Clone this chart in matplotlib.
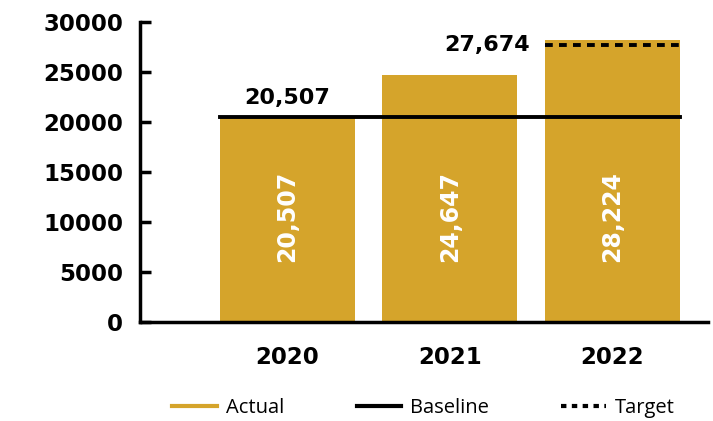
import matplotlib.pyplot as plt
from matplotlib.lines import Line2D

# data
years = ['2020', '2021', '2022']
actual = [20507, 24647, 28224]
baseline = 20507
target = 27674

gold = '#D5A42B'

fig = plt.figure(figsize=(7.13, 4.21), dpi=100)
ax = fig.add_axes([0.196, 0.235, 0.797, 0.713])

x = list(range(len(years)))
w = 0.83
ax.bar(x, actual, width=w, color=gold, zorder=2)

# labels inside bars
for xi, v in zip(x, actual):
    ax.text(xi, baseline / 2 + 300, f'{v:,}', rotation=90, ha='center', va='center',
            color='white', fontsize=17, fontweight='bold', zorder=4)

# baseline across all bars
ax.plot([x[0] - w / 2, x[-1] + w / 2], [baseline, baseline], color='black', lw=2.8, zorder=3)
ax.text(x[0], baseline + 900, f'{baseline:,}', ha='center', va='bottom',
        fontsize=16, fontweight='bold')

# target on last bar
ax.plot([x[-1] - w / 2, x[-1] + w / 2], [target, target], color='black', lw=2.8,
        ls=(0, (2, 1.6)), zorder=3)
ax.text(x[-1] - w / 2 - 0.09, target, f'{target:,}', ha='right', va='center',
        fontsize=16, fontweight='bold')

ax.set_xlim(-0.908, 2.59)
ax.set_ylim(0, 30000)
ax.set_yticks(range(0, 30001, 5000))
ax.set_xticks(x)
ax.set_xticklabels(years)

for s in ['top', 'right']:
    ax.spines[s].set_visible(False)
for s in ['left', 'bottom']:
    ax.spines[s].set_linewidth(2.5)
ax.tick_params(axis='y', direction='in', length=8, width=2.5, pad=12, labelsize=16.5)
ax.tick_params(axis='x', length=0, pad=17, labelsize=16.5)
for lab in ax.get_xticklabels() + ax.get_yticklabels():
    lab.set_fontweight('bold')

handles = [Line2D([], [], color=gold, lw=3),
           Line2D([], [], color='black', lw=3),
           Line2D([], [], color='black', lw=3, ls=(0, (1.3, 1.3)))]
fig.legend(handles, ['Actual', 'Baseline', 'Target'], loc='center',
           bbox_to_anchor=(0.594, 0.03), ncol=3, frameon=False,
           handlelength=2.2, handletextpad=0.45, columnspacing=3.6,
           prop={'family': 'Open Sans', 'size': 14.5})

fig.savefig('out.png', dpi=100)
